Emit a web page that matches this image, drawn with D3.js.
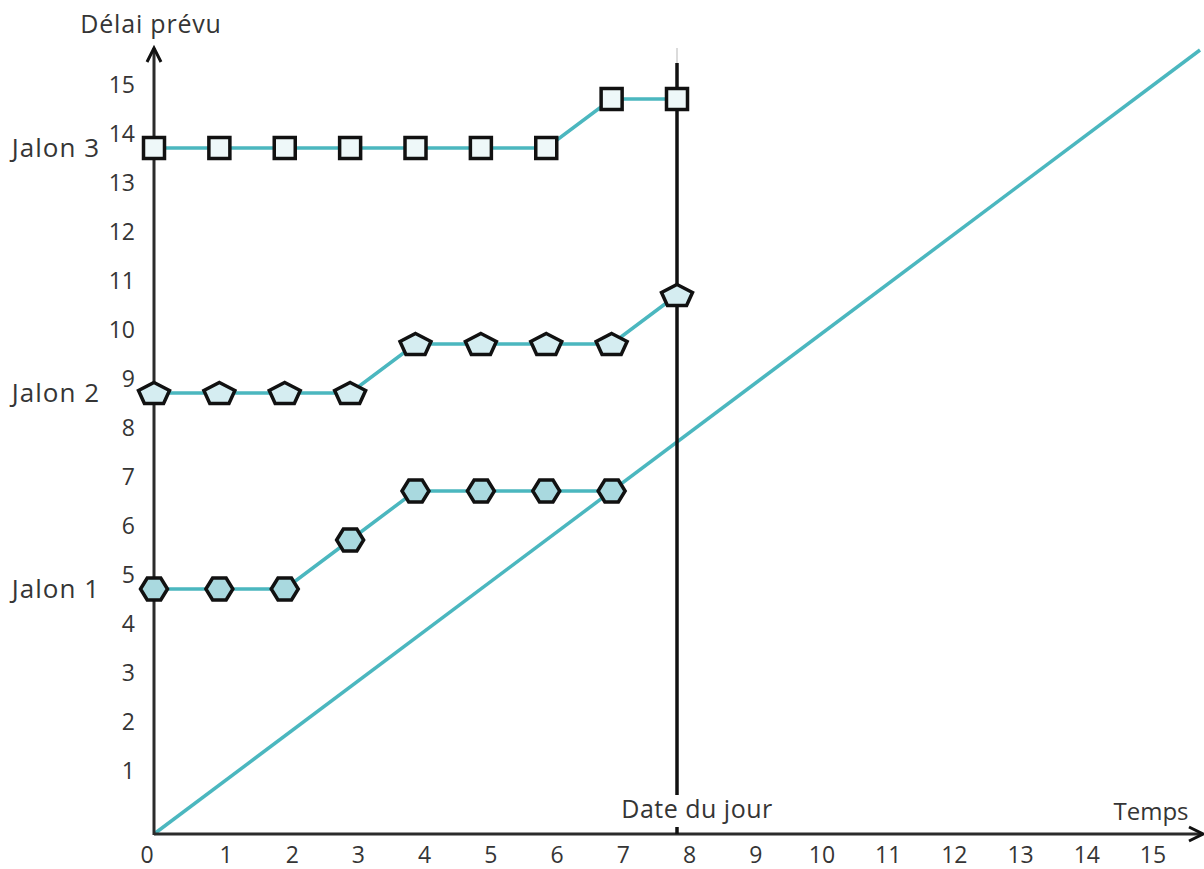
<!DOCTYPE html>
<html><head><meta charset="utf-8">
<script src="https://cdn.jsdelivr.net/npm/d3@7"></script>
<style>
body{margin:0;background:#fff;}
svg{display:block;}
text{font-family:"Open Sans",sans-serif;fill:#353535;}
</style></head>
<body>
<svg id="chart" width="1204" height="869"></svg>
<script>
// ---- data ----
const xTicks = [0,1,2,3,4,5,6,7,8,9,10,11,12,13,14,15];
const yTicks = [1,2,3,4,5,6,7,8,9,10,11,12,13,14,15];
const timeSteps = [0,1,2,3,4,5,6,7,8];
const jalon3 = [14,14,14,14,14,14,14,15,15];
const jalon2 = [9,9,9,9,10,10,10,10,11];
const jalon1 = [5,5,5,6,7,7,7,7];
const jalonLabels = ["Jalon 1","Jalon 2","Jalon 3"];
const diagonal = [[0,0],[16,16]];
const today = 8;
const axisTitleY = "Délai prévu";
const axisTitleX = "Temps";
const todayLabel = "Date du jour";

// ---- scales ----
const svg = d3.select("#chart");
const x = d3.scaleLinear().domain([0,16]).range([154,1200]);
const y = d3.scaleLinear().domain([0,16]).range([834,50]);
const xLab = d3.scaleLinear().domain([1,15]).range([226,1153]);

const teal = "#4bb7bf";
const axisCol = "#2b2b2b";

// diagonal
const line = d3.line().x(d=>x(d[0])).y(d=>y(d[1]));
svg.append("path").attr("d", line(diagonal))
  .attr("fill","none").attr("stroke",teal).attr("stroke-width",3.5);

// axes
svg.append("line").attr("x1",x(0)).attr("x2",x(16)+2).attr("y1",y(0)).attr("y2",y(0))
  .attr("stroke",axisCol).attr("stroke-width",3);
svg.append("line").attr("x1",x(0)).attr("x2",x(0)).attr("y1",y(0)+1).attr("y2",y(16)-2)
  .attr("stroke",axisCol).attr("stroke-width",3);
// arrows
svg.append("path").attr("d",`M${x(0)-7},${y(16)+12} L${x(0)},${y(16)-2} L${x(0)+7},${y(16)+12}`)
  .attr("fill","none").attr("stroke","#111").attr("stroke-width",3);
svg.append("path").attr("d",`M${x(16)-11},${y(0)-7} L${x(16)+3},${y(0)} L${x(16)-11},${y(0)+7}`)
  .attr("fill","none").attr("stroke","#111").attr("stroke-width",3);

// today line
svg.append("line").attr("x1",x(today)).attr("x2",x(today)).attr("y1",48).attr("y2",63)
  .attr("stroke","#cfcfcf").attr("stroke-width",1.5);
svg.append("line").attr("x1",x(today)).attr("x2",x(today)).attr("y1",63).attr("y2",795)
  .attr("stroke","#111").attr("stroke-width",3.5);
svg.append("line").attr("x1",x(today)).attr("x2",x(today)).attr("y1",827).attr("y2",y(0))
  .attr("stroke","#111").attr("stroke-width",3.5);

// tick labels
svg.append("g").selectAll("text").data(xTicks).join("text")
  .attr("x",d=> d===0 ? x(0)-7 : xLab(d)).attr("y",863)
  .attr("text-anchor","middle")
  .attr("font-size",23).text(d=>d);
svg.append("g").selectAll("text").data(yTicks).join("text")
  .attr("x",135).attr("y",d=>y(d)-15)
  .attr("text-anchor","end").attr("dominant-baseline","central")
  .attr("font-size",23).text(d=>d);

// titles
svg.append("text").attr("x",151).attr("y",23).attr("text-anchor","middle")
  .attr("dominant-baseline","central").attr("font-size",25).attr("letter-spacing",0.8).text(axisTitleY);
svg.append("text").attr("x",1151).attr("y",810).attr("text-anchor","middle")
  .attr("dominant-baseline","central").attr("font-size",24).text(axisTitleX);
svg.append("text").attr("x",697).attr("y",808).attr("text-anchor","middle")
  .attr("dominant-baseline","central").attr("font-size",25).attr("letter-spacing",0.5).text(todayLabel);

// jalon labels
const jalonStart = [jalon1[0], jalon2[0], jalon3[0]];
svg.append("g").selectAll("text").data(jalonLabels).join("text")
  .attr("x",100).attr("y",(d,i)=>y(jalonStart[i])-1)
  .attr("text-anchor","end").attr("dominant-baseline","central")
  .attr("font-size",26).attr("letter-spacing",1).text(d=>d);

// custom symbols
const pentagon = {draw(ctx){
  const w=15.5, h=21, R=1;
  const pts=[[0,-R],[0.951,-0.309],[0.588,0.809],[-0.588,0.809],[-0.951,-0.309]];
  const sy=h/1.809, sx=w/0.951, off=-0.095*sy;
  pts.forEach((p,i)=>{const px=p[0]*sx, py=p[1]*sy-off; i?ctx.lineTo(px,py):ctx.moveTo(px,py);});
  ctx.closePath();
}};
const hexagon = {draw(ctx){
  const w=13.5, h=11;
  const pts=[[-w,0],[-w/2,-h],[w/2,-h],[w,0],[w/2,h],[-w/2,h]];
  pts.forEach((p,i)=> i?ctx.lineTo(p[0],p[1]):ctx.moveTo(p[0],p[1]));
  ctx.closePath();
}};
const square = {draw(ctx){ const s=10.5; ctx.rect(-s,-s,2*s,2*s); }};

const series = [
  {vals:jalon1, sym:hexagon, fill:"#a9d9df"},
  {vals:jalon2, sym:pentagon, fill:"#d5edf1"},
  {vals:jalon3, sym:square, fill:"#eef8f9"}
];
const sl = d3.line().x((d,i)=>x(timeSteps[i])).y(d=>y(d));
series.forEach(s=>{
  svg.append("path").attr("d", sl(s.vals)).attr("fill","none")
    .attr("stroke",teal).attr("stroke-width",3.5);
});
series.forEach(s=>{
  svg.append("g").selectAll("path").data(s.vals).join("path")
    .attr("transform",(d,i)=>`translate(${x(timeSteps[i])},${y(d)})`)
    .attr("d", d3.symbol().type(s.sym)())
    .attr("fill",s.fill).attr("stroke","#111").attr("stroke-width",3.5)
    .attr("stroke-linejoin","miter");
});
</script>
</body></html>
